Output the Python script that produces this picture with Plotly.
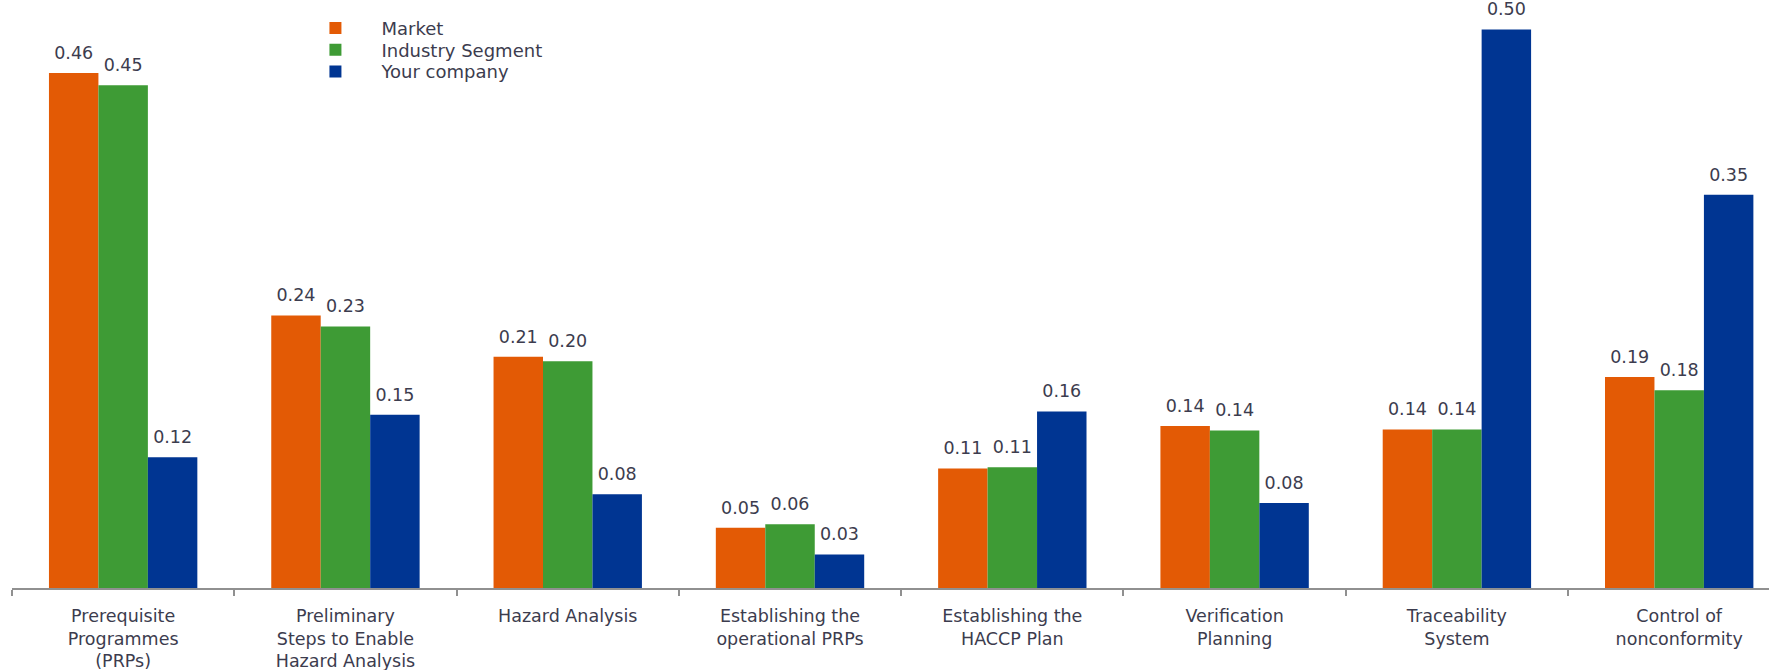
import plotly.graph_objects as go

categories = [
    "Prerequisite<br>Programmes<br>(PRPs)",
    "Preliminary<br>Steps to Enable<br>Hazard Analysis",
    "Hazard Analysis",
    "Establishing the<br>operational PRPs",
    "Establishing the<br>HACCP Plan",
    "Verification<br>Planning",
    "Traceability<br>System",
    "Control of<br>nonconformity",
]
market = [0.461, 0.244, 0.207, 0.054, 0.107, 0.145, 0.142, 0.189]
industry = [0.450, 0.234, 0.203, 0.057, 0.108, 0.141, 0.142, 0.177]
company = [0.117, 0.155, 0.084, 0.030, 0.158, 0.076, 0.500, 0.352]

series_names = ["Market", "Industry Segment", "Your company"]
series_values = [market, industry, company]
colors = ["#E35A05", "#3E9B35", "#003592"]
legend_ids = ["legend", "legend2", "legend3"]

text_color = "#3c3c4e"
font_family = "DejaVu Sans, Verdana, sans-serif"
GAP = 0.3325

fig = go.Figure()
for i, (name, vals, col) in enumerate(zip(series_names, series_values, colors)):
    fig.add_trace(go.Bar(
        name=name,
        x=categories,
        y=vals,
        marker=dict(color=col, line=dict(width=0)),
        legend=legend_ids[i],
        offsetgroup=str(i),
    ))
for i, vals in enumerate(series_values):
    fig.add_trace(go.Scatter(
        x=categories,
        y=vals,
        mode="markers+text",
        marker=dict(size=14, color="rgba(0,0,0,0)"),
        text=[f"{v:.2f}" for v in vals],
        textposition="top center",
        textfont=dict(family=font_family, size=17.5, color=text_color),
        showlegend=False,
        hoverinfo="skip",
        cliponaxis=False,
        offsetgroup=str(i),
        alignmentgroup="labels",
    ))

legend_rows_y = [28.3, 50.0, 71.7]
plot_h = 670 - 82
legend_common = dict(
    x=0.1579, xanchor="left", yanchor="middle",
    bgcolor="rgba(0,0,0,0)",
    font=dict(family=font_family, size=18, color=text_color),
    itemwidth=82,
)

fig.update_layout(
    width=1769,
    height=670,
    margin=dict(l=12, r=0, t=0, b=82),
    barmode="group",
    bargap=GAP,
    bargroupgap=0,
    scattermode="group",
    scattergap=GAP,
    plot_bgcolor="white",
    paper_bgcolor="white",
    font=dict(family=font_family, color=text_color),
    legend=dict(y=1 - legend_rows_y[0] / plot_h, **legend_common),
    legend2=dict(y=1 - legend_rows_y[1] / plot_h, **legend_common),
    legend3=dict(y=1 - legend_rows_y[2] / plot_h, **legend_common),
    xaxis=dict(
        range=[-0.5, 7.404],
        showline=True, linecolor="#909090", linewidth=1.5,
        ticks="outside", tickson="boundaries", ticklen=6,
        tickcolor="#909090", tickwidth=1.5,
        tickfont=dict(family=font_family, size=17.5, color=text_color),
        ticklabelstandoff=11,
        showgrid=False, zeroline=False,
    ),
    yaxis=dict(
        range=[0, 0.5264], visible=False, showgrid=False, zeroline=False,
    ),
)

fig.write_html(
    "out.html",
    config={"displayModeBar": False},
    post_script="document.body.style.margin='0';document.body.style.overflow='hidden';",
)
